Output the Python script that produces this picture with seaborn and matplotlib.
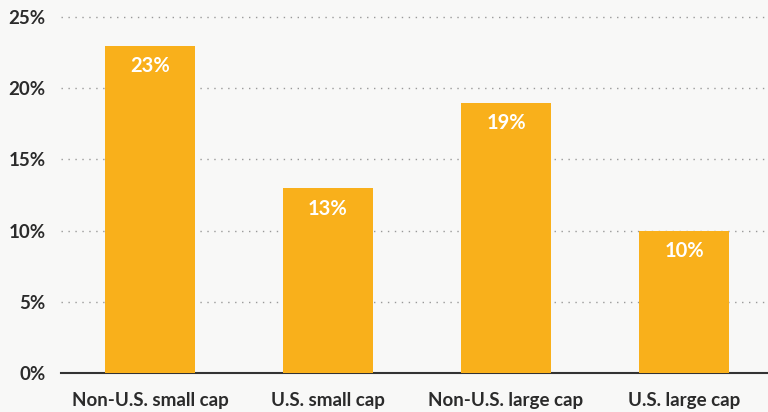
import pandas as pd
import matplotlib.pyplot as plt
import seaborn as sns

categories = ['Non-U.S. small cap', 'U.S. small cap', 'Non-U.S. large cap', 'U.S. large cap']
values = [23, 13, 19, 10]
yticks = [0, 5, 10, 15, 20, 25]

df = pd.DataFrame({'category': categories, 'value': values})

sns.set_style('white')
plt.rcParams['font.family'] = ['Lato', 'DejaVu Sans']

bg = '#f8f8f7'
fig = plt.figure(figsize=(7.68, 4.12), dpi=100, facecolor=bg)
# axes placed to match the reference layout (runs slightly past the right edge)
ax = fig.add_axes([61 / 768, 39 / 412, 712 / 768, (373 - 10) / 412])
ax.set_facecolor(bg)

sns.barplot(data=df, x='category', y='value', color='#f9b01b', saturation=1,
            width=0.51, linewidth=0, ax=ax, zorder=3)

ax.set_ylim(0, 25.5)
ax.set_xlim(-0.5, 3.5)
ax.set_yticks(yticks)
ax.set_yticklabels([f'{t}%' for t in yticks])
ax.yaxis.grid(True, linestyle=(0, (1, 4)), color='#999999', linewidth=1)
ax.set_axisbelow(True)
for s in ['top', 'right', 'left']:
    ax.spines[s].set_visible(False)
ax.spines['bottom'].set_color('#333333')
ax.spines['bottom'].set_linewidth(1.5)
ax.set_xlabel('')
ax.set_ylabel('')
ax.tick_params(axis='both', length=0, labelsize=13.5, labelcolor='#2b2b2b')
ax.tick_params(axis='x', pad=14)
ax.tick_params(axis='y', pad=11)
for lbl in ax.get_xticklabels() + ax.get_yticklabels():
    lbl.set_fontweight('bold')

# value labels inside bars
for p, v in zip(ax.patches, values):
    ax.annotate(f'{v}%', (p.get_x() + p.get_width() / 2, p.get_height()),
                xytext=(0, -15), textcoords='offset points', ha='center', va='center',
                color='white', fontsize=14.5, fontweight='bold', zorder=4)

fig.savefig('out.png', dpi=100, facecolor=bg)
